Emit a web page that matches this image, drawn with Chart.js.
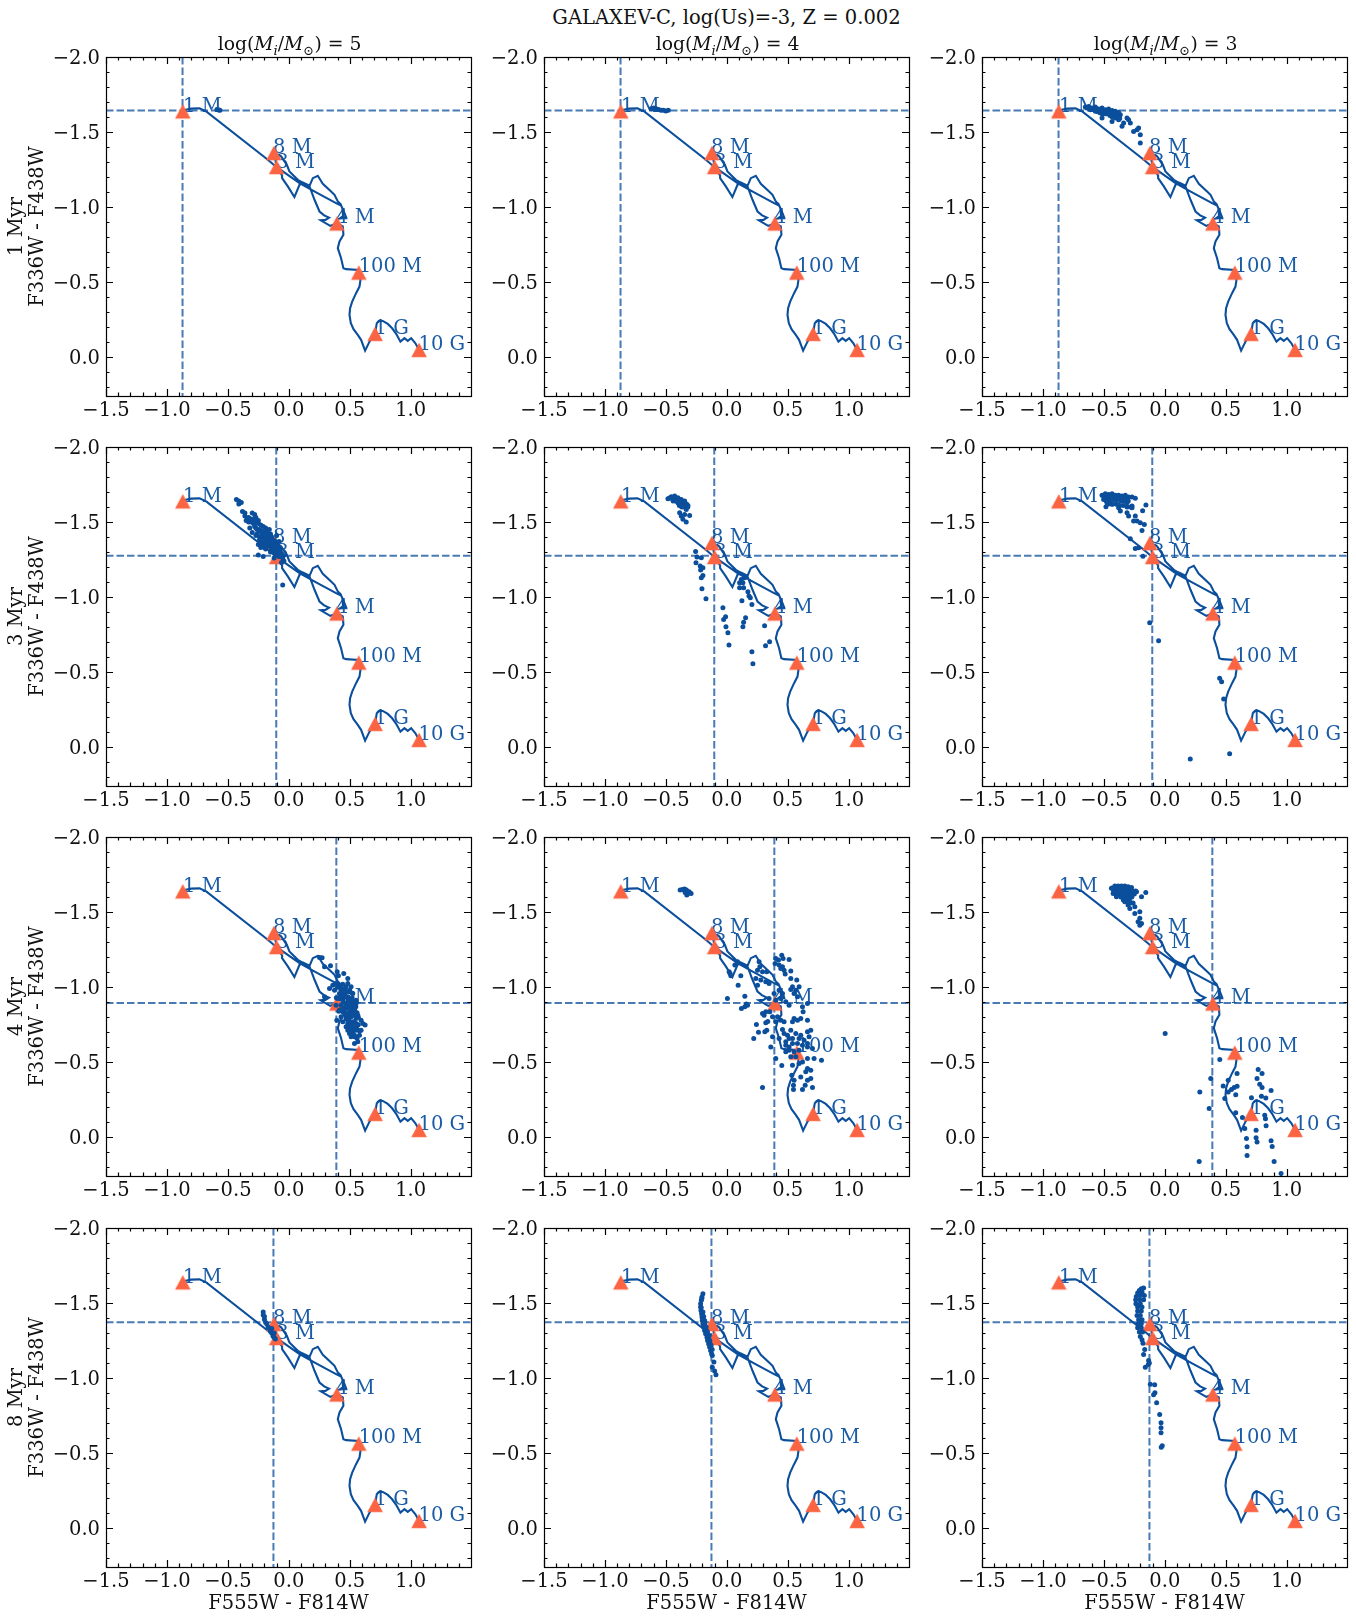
<!DOCTYPE html>
<html><head><meta charset="utf-8">
<script src="https://cdn.jsdelivr.net/npm/chart.js@4"></script>
<style>
html,body{margin:0;padding:0;background:#fff;width:1356px;height:1623px;overflow:hidden;position:relative}
canvas{position:absolute;display:block}
.t{position:absolute;font-family:'DejaVu Serif',serif;color:#111;white-space:nowrap;transform:translateX(-50%);line-height:20px}
.t sub{font-size:70%;line-height:0}
</style></head><body>
<script>
// ---- model track
const trackX=[-0.872,-0.801,-0.733,-0.678,-0.172,-0.098,-0.049,0.088,0.224,0.388,0.429,0.445,0.470,0.420,0.445,0.440,0.425,0.402,0.375,0.347,0.279,0.238,0.197,0.170,0.115,0.088,0.046,-0.008,-0.055,-0.055,-0.098,-0.120,-0.063,-0.016,0.005,0.074,0.142,0.170,0.211,0.252,0.290,0.330,0.300,0.262,0.340,0.394,0.443,0.448,0.416,0.402,0.429,0.448,0.470,0.574,0.588,0.580,0.552,0.520,0.503,0.498,0.509,0.531,0.566,0.593,0.626,0.662,0.708,0.722,0.744,0.771,0.812,0.848,0.881,0.916,0.949,0.976,1.004,1.039,1.066];
const trackY=[-1.644,-1.656,-1.658,-1.638,-1.316,-1.264,-1.238,-1.160,-1.098,-1.027,-1.010,-0.985,-0.933,-0.925,-0.940,-0.990,-1.020,-1.038,-1.082,-1.104,-1.156,-1.209,-1.193,-1.142,-1.164,-1.149,-1.067,-1.138,-1.193,-1.211,-1.264,-1.360,-1.338,-1.282,-1.238,-1.182,-1.149,-1.138,-1.049,-0.971,-0.945,-0.930,-0.915,-0.912,-0.875,-0.893,-0.871,-0.816,-0.771,-0.727,-0.660,-0.593,-0.587,-0.582,-0.516,-0.471,-0.427,-0.371,-0.327,-0.282,-0.227,-0.187,-0.149,-0.116,-0.044,-0.104,-0.160,-0.227,-0.244,-0.242,-0.222,-0.193,-0.156,-0.104,-0.127,-0.109,-0.127,-0.093,-0.053];
// ---- age markers
const ageX=[-0.870,-0.123,-0.100,0.394,0.574,0.708,1.069];
const ageY=[-1.638,-1.360,-1.267,-0.891,-0.564,-0.156,-0.049];
const ageText=['1 M','8 M','3 M','4 M','100 M','1 G','10 G'];
const ageTextX=[-0.868,-0.129,-0.102,0.388,0.573,0.704,1.065];
const ageTextY=[-1.635,-1.360,-1.263,-0.897,-0.571,-0.153,-0.046];
// ---- reference colours per row
const refX=[-0.872,-0.103,0.390,-0.126];
const refY=[-1.644,-1.275,-0.895,-1.372];
const rowNames=['1 Myr','3 Myr','4 Myr','8 Myr'];
const colNames=['5','4','3'];
// ---- clusters
const r1c1x=[-0.59,-0.575,-0.565];
const r1c1y=[-1.65,-1.647,-1.645];
const r1c2x=[-0.62,-0.60,-0.58,-0.56,-0.54,-0.52,-0.50,-0.48];
const r1c2y=[-1.655,-1.66,-1.655,-1.65,-1.645,-1.645,-1.64,-1.645];
const r1c3x=[-0.652,-0.625,-0.597,-0.57,-0.543,-0.515,-0.488,-0.461,-0.433,-0.406,-0.379,-0.365,-0.611,-0.57,-0.529,-0.488,-0.447,-0.433,-0.406,-0.379,-0.351,-0.338,-0.297,-0.283,-0.31,-0.256,-0.228,-0.215,-0.201,-0.201,-0.515,-0.379,-0.64,-0.62,-0.60,-0.58,-0.56,-0.54,-0.52,-0.50,-0.48,-0.46,-0.44,-0.42,-0.40,-0.55,-0.51,-0.47,-0.43,-0.41,-0.39,-0.37];
const r1c3y=[-1.667,-1.671,-1.66,-1.667,-1.653,-1.66,-1.649,-1.653,-1.644,-1.638,-1.631,-1.616,-1.649,-1.638,-1.627,-1.622,-1.609,-1.571,-1.593,-1.582,-1.538,-1.56,-1.582,-1.56,-1.593,-1.504,-1.516,-1.527,-1.482,-1.427,-1.593,-1.622,-1.66,-1.66,-1.655,-1.65,-1.655,-1.645,-1.64,-1.64,-1.635,-1.63,-1.62,-1.62,-1.61,-1.635,-1.62,-1.62,-1.60,-1.60,-1.60,-1.59];
const r2c1x=[-0.43,-0.41,-0.39,-0.41,-0.38,-0.36,-0.36,-0.34,-0.30,-0.28,-0.35,-0.31,-0.27,-0.25,-0.28,-0.32,-0.30,-0.27,-0.24,-0.21,-0.19,-0.16,-0.24,-0.25,-0.21,-0.19,-0.20,-0.16,-0.13,-0.15,-0.10,-0.17,-0.13,-0.09,-0.08,-0.10,-0.15,-0.08,-0.05,-0.04,-0.25,-0.21,-0.05,-0.06,-0.12,-0.23,-0.19,-0.26,-0.22,-0.18,-0.23,-0.20,-0.14,-0.11,-0.07,-0.12,-0.06,-0.33,-0.29,-0.27,-0.23,-0.17,-0.33,-0.31,-0.29,-0.27,-0.25,-0.23,-0.26,-0.24,-0.22,-0.20,-0.18,-0.24,-0.22,-0.20,-0.18,-0.16,-0.14,-0.21,-0.19,-0.17,-0.15,-0.13,-0.11,-0.18,-0.16,-0.14,-0.12,-0.10,-0.08,-0.15,-0.13,-0.11,-0.09,-0.07,-0.11,-0.09,-0.07,-0.05];
const r2c1y=[-1.65,-1.64,-1.63,-1.62,-1.57,-1.56,-1.54,-1.52,-1.56,-1.55,-1.51,-1.50,-1.53,-1.51,-1.47,-1.46,-1.43,-1.41,-1.45,-1.47,-1.46,-1.45,-1.38,-1.35,-1.40,-1.42,-1.36,-1.40,-1.38,-1.42,-1.41,-1.34,-1.35,-1.34,-1.37,-1.31,-1.30,-1.27,-1.26,-1.24,-1.28,-1.27,-1.08,-1.23,-1.26,-1.33,-1.32,-1.42,-1.42,-1.39,-1.36,-1.33,-1.33,-1.35,-1.32,-1.30,-1.29,-1.50,-1.49,-1.46,-1.40,-1.37,-1.53,-1.52,-1.52,-1.50,-1.49,-1.48,-1.45,-1.44,-1.44,-1.43,-1.44,-1.40,-1.40,-1.41,-1.41,-1.41,-1.40,-1.37,-1.38,-1.39,-1.38,-1.37,-1.37,-1.35,-1.35,-1.36,-1.34,-1.35,-1.33,-1.31,-1.32,-1.32,-1.31,-1.30,-1.28,-1.28,-1.27,-1.28];
const r2c2x=[-0.483,-0.456,-0.428,-0.401,-0.374,-0.346,-0.319,-0.442,-0.401,-0.36,-0.387,-0.346,-0.305,-0.36,-0.333,-0.374,-0.333,-0.256,-0.245,-0.209,-0.253,-0.218,-0.196,-0.215,-0.196,-0.209,-0.204,-0.171,-0.032,-0.026,-0.01,-0.007,0.009,0.018,0.206,0.214,0.318,0.351,0.31,0.132,0.138,0.154,0.124,0.206,0.173,0.182,0.193,0.105,0.132,0.105,0.138,0.119,0.146,-0.47,-0.45,-0.43,-0.41,-0.39,-0.37,-0.35,-0.33,-0.44,-0.42,-0.40,-0.38,-0.36,-0.34,-0.32,-0.39,-0.37,-0.35];
const r2c2y=[-1.656,-1.669,-1.673,-1.662,-1.651,-1.64,-1.611,-1.647,-1.629,-1.611,-1.562,-1.551,-1.544,-1.518,-1.5,-1.54,-1.584,-1.304,-1.267,-1.262,-1.229,-1.207,-1.196,-1.18,-1.144,-1.129,-1.056,-0.989,-0.929,-0.851,-0.869,-0.802,-0.762,-0.682,-0.636,-0.556,-0.676,-0.702,-0.809,-0.802,-0.833,-0.862,-0.976,-0.951,-1.036,-1.007,-0.996,-1.096,-1.096,-1.062,-1.062,-1.118,-1.129,-1.66,-1.66,-1.66,-1.65,-1.65,-1.64,-1.63,-1.62,-1.64,-1.64,-1.63,-1.63,-1.62,-1.61,-1.60,-1.61,-1.60,-1.60];
const r2c3x=[-0.515,-0.488,-0.461,-0.433,-0.406,-0.379,-0.351,-0.324,-0.297,-0.269,-0.242,-0.502,-0.474,-0.447,-0.406,-0.474,-0.483,-0.433,-0.392,-0.351,-0.31,-0.269,-0.379,-0.365,-0.31,-0.297,-0.269,-0.242,-0.228,-0.256,-0.201,-0.168,-0.187,-0.155,-0.182,-0.283,-0.242,-0.215,-0.179,-0.124,-0.051,0.45,0.466,0.483,0.532,0.209,-0.50,-0.47,-0.44,-0.41,-0.38,-0.35,-0.32,-0.48,-0.45,-0.42,-0.39,-0.36,-0.33,-0.30,-0.46,-0.43,-0.40,-0.37,-0.34,-0.31,-0.28];
const r2c3y=[-1.678,-1.689,-1.684,-1.689,-1.678,-1.678,-1.673,-1.678,-1.667,-1.667,-1.658,-1.651,-1.662,-1.651,-1.651,-1.629,-1.602,-1.618,-1.618,-1.64,-1.629,-1.596,-1.596,-1.573,-1.562,-1.54,-1.607,-1.54,-1.507,-1.507,-1.496,-1.484,-1.444,-1.613,-1.576,-1.389,-1.324,-1.329,-1.273,-0.829,-0.709,-0.46,-0.436,-0.322,0.044,0.078,-1.67,-1.67,-1.67,-1.67,-1.66,-1.66,-1.66,-1.64,-1.64,-1.65,-1.65,-1.64,-1.64,-1.64,-1.62,-1.62,-1.62,-1.61,-1.61,-1.60,-1.60];
const r3c1x=[0.252,0.273,0.293,0.342,0.397,0.407,0.451,0.484,0.361,0.334,0.388,0.416,0.443,0.484,0.511,0.375,0.416,0.457,0.498,0.525,0.293,0.402,0.443,0.484,0.511,0.552,0.388,0.429,0.47,0.511,0.552,0.416,0.457,0.498,0.539,0.394,0.429,0.47,0.511,0.552,0.593,0.607,0.626,0.443,0.484,0.525,0.566,0.484,0.511,0.552,0.593,0.498,0.539,0.58,0.539,0.566,0.47,0.511,0.443,0.484,0.457,0.429,0.47,0.498,0.525,0.484,0.566,0.525,.40,.42,.44,.46,.48,.50,.52,.44,.46,.48,.50,.52,.54,.45,.47,.49,.51,.53,.55,.46,.48,.50,.52,.54,.56,.47,.49,.51,.53,.55,.57,.49,.51,.53,.55,.57,.50,.52,.54,.56,.58,.43,.45,.47,.42,.44,.52,.54,.56,.41,.39];
const r3c1y=[-1.198,-1.196,-1.136,-1.142,-1.102,-1.076,-1.091,-1.058,-1.013,-0.991,-1.024,-1.002,-1.02,-1.024,-1.002,-0.98,-0.958,-0.98,-0.969,-0.958,-0.936,-0.924,-0.924,-0.936,-0.913,-0.913,-0.88,-0.88,-0.88,-0.869,-0.891,-0.847,-0.836,-0.836,-0.836,-0.78,-0.802,-0.802,-0.802,-0.791,-0.78,-0.758,-0.747,-0.769,-0.758,-0.758,-0.747,-0.713,-0.724,-0.713,-0.713,-0.691,-0.68,-0.68,-0.624,-0.636,-0.736,-0.669,-0.836,-0.902,-0.947,-0.98,-1.002,-0.869,-0.813,-0.78,-0.813,-0.702,-1.0,-1.0,-.99,-.98,-.97,-.98,-.96,-.95,-.94,-.93,-.92,-.93,-.90,-.90,-.89,-.90,-.90,-.88,-.87,-.86,-.86,-.87,-.85,-.85,-.83,-.82,-.81,-.82,-.82,-.81,-.80,-.78,-.77,-.77,-.76,-.75,-.74,-.74,-.73,-.72,-.71,-.92,-.86,-.79,-.95,-.97,-.70,-.67,-.66,-.84,-.93];
const r3c2x=[-0.383,-0.364,-0.347,-0.331,-0.309,-0.293,-0.328,-0.342,-0.32,0.005,0.019,0.033,0.027,0.066,0.088,0.115,0.093,0.148,0.12,0.148,0.17,0.161,0.243,0.26,0.221,0.293,0.312,0.328,0.32,0.336,0.293,0.306,0.32,0.353,0.265,0.271,0.252,0.293,0.328,0.238,0.252,0.279,0.32,0.347,0.402,0.424,0.451,0.462,0.511,0.396,0.429,0.457,0.47,0.443,0.479,0.525,0.525,0.574,0.539,0.525,0.566,0.593,0.552,0.58,0.347,0.388,0.429,0.457,0.402,0.443,0.484,0.511,0.621,0.626,0.662,0.662,0.607,0.552,0.58,0.539,0.375,0.416,0.443,0.47,0.402,0.457,0.47,0.525,0.498,0.566,0.607,0.662,0.689,0.593,0.634,0.675,0.662,0.621,0.511,0.484,0.539,0.375,0.429,0.361,0.484,0.511,0.552,0.593,0.662,0.703,0.525,0.566,0.621,0.662,0.716,0.777,0.402,0.451,0.539,0.533,0.552,0.547,0.547,0.621,0.643,0.662,0.689,0.648,0.689,0.662,0.703,0.607,0.593,0.484,0.539,0.58,0.511];
const r3c2y=[-1.647,-1.651,-1.653,-1.647,-1.636,-1.624,-1.613,-1.631,-1.624,-0.924,-1.102,-1.076,-1.091,-1.147,-1.169,-1.076,-1.013,-0.94,-0.858,-0.869,-0.88,-0.887,-0.751,-0.7,-0.658,-0.331,-0.702,-0.713,-0.762,-0.771,-0.824,-0.813,-0.836,-0.836,-1.169,-1.136,-1.113,-1.102,-1.102,-1.058,-1.013,-1.047,-1.036,-1.024,-1.191,-1.18,-1.213,-1.191,-1.184,-1.158,-1.147,-1.136,-1.113,-1.124,-1.087,-1.107,-1.058,-1.047,-1.002,-0.984,-0.98,-1.002,-0.958,-0.936,-0.924,-0.958,-0.98,-0.958,-0.913,-0.924,-0.902,-0.88,-0.869,-0.836,-0.891,-0.78,-0.791,-0.791,-0.78,-0.769,-0.802,-0.802,-0.78,-0.769,-0.769,-0.718,-0.691,-0.713,-0.68,-0.691,-0.68,-0.702,-0.713,-0.658,-0.647,-0.669,-0.624,-0.613,-0.658,-0.636,-0.624,-0.669,-0.658,-0.602,-0.613,-0.58,-0.569,-0.58,-0.602,-0.591,-0.536,-0.536,-0.502,-0.524,-0.524,-0.513,-0.524,-0.478,-0.48,-0.413,-0.38,-0.347,-0.318,-0.318,-0.347,-0.38,-0.391,-0.436,-0.447,-0.458,-0.331,-0.402,-0.491,-0.569,-0.658,-0.624,-0.602];
const r3c3x=[-0.438,-0.41,-0.383,-0.355,-0.328,-0.301,-0.273,-0.424,-0.397,-0.369,-0.342,-0.314,-0.273,-0.232,-0.328,-0.301,-0.287,-0.246,-0.205,-0.246,-0.205,-0.219,-0.191,-0.205,-0.156,-0.191,-0.369,-0.397,-0.328,0.003,0.451,0.377,0.287,0.364,0.282,0.479,0.52,0.593,0.766,0.798,0.757,0.779,0.798,0.872,0.593,0.569,0.547,0.52,0.492,0.582,0.711,0.793,0.829,0.582,0.637,0.656,0.82,0.826,0.831,0.749,0.749,0.757,0.67,0.675,0.675,0.872,0.881,0.897,0.954,-.43,-.40,-.37,-.34,-.31,-.28,-.42,-.39,-.36,-.33,-.30,-.27,-.24,-.40,-.37,-.34,-.31,-.28,-.25,-.36,-.33,-.30,-.27,-.34,-.31,-.29,-.30,-.28,-.26];
const r3c3y=[-1.658,-1.673,-1.673,-1.673,-1.673,-1.669,-1.664,-1.624,-1.602,-1.613,-1.636,-1.624,-1.636,-1.636,-1.569,-1.547,-1.524,-1.536,-1.502,-1.491,-1.458,-1.436,-1.424,-1.413,-1.631,-1.602,-1.647,-1.647,-1.602,-0.691,-0.518,-0.391,-0.302,-0.191,0.162,-0.342,-0.38,-0.424,-0.451,-0.424,-0.391,-0.353,-0.331,-0.311,-0.34,-0.331,-0.318,-0.302,-0.258,-0.284,-0.264,-0.273,-0.262,-0.164,-0.131,-0.058,-0.147,-0.124,-0.076,-0.047,0.004,0.031,0.009,0.064,0.122,0.024,0.062,0.162,0.242,-1.66,-1.66,-1.66,-1.66,-1.66,-1.65,-1.64,-1.64,-1.64,-1.64,-1.64,-1.64,-1.64,-1.62,-1.62,-1.62,-1.62,-1.62,-1.62,-1.60,-1.60,-1.60,-1.60,-1.58,-1.58,-1.58,-1.56,-1.56,-1.56];
const r4c1x=[-0.21,-0.21,-0.20,-0.20,-0.19,-0.18,-0.17,-0.16,-0.15,-0.14,-0.13,-0.12,-0.11,-0.14,-0.12];
const r4c1y=[-1.44,-1.42,-1.41,-1.39,-1.37,-1.36,-1.34,-1.33,-1.31,-1.30,-1.28,-1.27,-1.26,-1.33,-1.30];
const r4c2x=[-0.196,-0.204,-0.209,-0.215,-0.215,-0.212,-0.207,-0.204,-0.201,-0.196,-0.19,-0.182,-0.174,-0.163,-0.158,-0.149,-0.141,-0.133,-0.125,-0.119,-0.106,-0.119,-0.1,-0.089,-0.196,-0.182,-0.174,-0.155,-.205,-.21,-.20,-.195,-.19,-.18,-.17,-.16,-.15,-.14,-.13,-.19,-.18,-.17,-.16,-.15,-.14,-.13,-.12];
const r4c2y=[-1.562,-1.54,-1.518,-1.496,-1.473,-1.451,-1.429,-1.407,-1.384,-1.362,-1.34,-1.318,-1.296,-1.273,-1.251,-1.229,-1.207,-1.184,-1.162,-1.151,-1.107,-1.073,-1.047,-1.022,-1.44,-1.384,-1.329,-1.284,-1.53,-1.47,-1.42,-1.40,-1.37,-1.35,-1.32,-1.30,-1.27,-1.24,-1.21,-1.41,-1.37,-1.34,-1.31,-1.28,-1.25,-1.22,-1.19];
const r4c3x=[-0.174,-0.193,-0.209,-0.223,-0.187,-0.234,-0.201,-0.168,-0.239,-0.206,-0.174,-0.237,-0.201,-0.223,-0.187,-0.223,-0.193,-0.228,-0.201,-0.215,-0.187,-0.22,-0.193,-0.223,-0.193,-0.209,-0.182,-0.201,-0.187,-0.179,-0.165,-0.174,-0.133,-0.127,-0.135,-0.16,-0.119,-0.083,-0.081,-0.092,-0.067,-0.042,-0.031,-0.031,-0.031,-0.029,-0.021];
const r4c3y=[-1.6,-1.596,-1.584,-1.567,-1.573,-1.544,-1.551,-1.551,-1.522,-1.522,-1.522,-1.496,-1.496,-1.473,-1.473,-1.447,-1.447,-1.418,-1.418,-1.389,-1.389,-1.362,-1.362,-1.336,-1.336,-1.307,-1.307,-1.278,-1.256,-1.233,-1.191,-1.158,-1.118,-1.1,-1.091,-1.073,-0.96,-0.956,-0.902,-0.889,-0.836,-0.758,-0.702,-0.669,-0.636,-0.54,-0.549];

const dotTable=[[[r1c1x,r1c1y],[r1c2x,r1c2y],[r1c3x,r1c3y]],[[r2c1x,r2c1y],[r2c2x,r2c2y],[r2c3x,r2c3y]],[[r3c1x,r3c1y],[r3c2x,r3c2y],[r3c3x,r3c3y]],[[r4c1x,r4c1y],[r4c2x,r4c2y],[r4c3x,r4c3y]]];
const pairs=(xs,ys)=>xs.map((x,i)=>({x,y:ys[i]}));

// ---- styles and layout
const SERIF="'DejaVu Serif'";
const BLUE='#0b4f9c', DASH='rgba(11,79,156,0.75)', TOMATO='#fb6443';
const FS=19.5;
const colLeft=[106,544,982], rowTop=[57,447,837,1228];
const PW=365, PH=339, LEFTM=106, TOPM=10, BOTM=50, RIGHTM=9;
const XMIN=-1.5, XMAX=1.495, YMIN=-2, YMAX=0.258;
const isMajor=v=>Math.abs(v*2-Math.round(v*2))<1e-6;
const fmt=v=>isMajor(v)?(v<-1e-9?'\u2212':'')+Math.abs(v).toFixed(1):'';

// triangle centred on its mid-height, like the source marker
const tri=document.createElement('canvas');tri.width=18;tri.height=18;
{const c=tri.getContext('2d');c.fillStyle=TOMATO;c.beginPath();c.moveTo(9,1.7);c.lineTo(16.8,16.3);c.lineTo(1.2,16.3);c.closePath();c.fill();}

const noPad=s=>{s.paddingTop=0;s.paddingBottom=0;s.paddingLeft=0;s.paddingRight=0;};
const framePlugin={id:'frame',
 beforeDatasetsDraw(chart){
  const {ctx,scales:{x,y}}=chart;
  ctx.save();ctx.fillStyle='#1a5ba6';ctx.font=FS+"px "+SERIF;ctx.textAlign='left';ctx.textBaseline='alphabetic';
  ageText.forEach((t,i)=>ctx.fillText(t,x.getPixelForValue(ageTextX[i]),y.getPixelForValue(ageTextY[i])));
  ctx.restore();
 },
 afterDatasetsDraw(chart){
  const {ctx,chartArea:a,scales:{x,y}}=chart;
  ctx.save();ctx.strokeStyle='#000';ctx.lineWidth=1.2;
  ctx.beginPath();
  x.ticks.forEach(t=>{const p=Math.round(x.getPixelForValue(t.value))+.5,l=isMajor(t.value)?7:3.5;
    ctx.moveTo(p,a.bottom);ctx.lineTo(p,a.bottom-l);ctx.moveTo(p,a.top);ctx.lineTo(p,a.top+l);});
  y.ticks.forEach(t=>{const p=Math.round(y.getPixelForValue(t.value))+.5,l=isMajor(t.value)?7:3.5;
    ctx.moveTo(a.left,p);ctx.lineTo(a.left+l,p);ctx.moveTo(a.right,p);ctx.lineTo(a.right-l,p);});
  ctx.stroke();
  ctx.strokeRect(a.left+.5,a.top+.5,a.right-a.left,a.bottom-a.top);
  ctx.restore();
 }};

rowTop.forEach((top,r)=>colLeft.forEach((left,c)=>{
 const cv=document.createElement('canvas');
 const W=LEFTM+PW+RIGHTM,H=TOPM+PH+BOTM;
 cv.width=W;cv.height=H;cv.style.left=(left-LEFTM)+'px';cv.style.top=(top-TOPM)+'px';
 cv.style.width=W+'px';cv.style.height=H+'px';
 document.body.appendChild(cv);
 const [dx,dy]=dotTable[r][c];
 new Chart(cv,{type:'scatter',
  data:{datasets:[
   {label:'clusters',data:pairs(dx,dy),pointRadius:2.5,pointHoverRadius:2.5,backgroundColor:BLUE,borderColor:BLUE,borderWidth:0},
   {label:'ages',data:pairs(ageX,ageY),pointStyle:tri,pointRadius:8,backgroundColor:TOMATO,borderWidth:0},
   {label:'track',data:pairs(trackX,trackY),showLine:true,borderColor:BLUE,borderWidth:2.1,pointRadius:0,tension:0},
   {label:'x ref',data:[{x:refX[r],y:YMIN},{x:refX[r],y:YMAX}],showLine:true,borderColor:DASH,borderWidth:2,borderDash:[7.5,3],pointRadius:0},
   {label:'y ref',data:[{x:XMIN,y:refY[r]},{x:XMAX,y:refY[r]}],showLine:true,borderColor:DASH,borderWidth:2,borderDash:[7.5,3],pointRadius:0}
  ]},
  options:{responsive:false,animation:false,devicePixelRatio:1,
   layout:{padding:{top:TOPM,right:RIGHTM,left:0,bottom:0}},
   plugins:{legend:{display:false},tooltip:{enabled:false}},
   events:[],
   scales:{
    x:{type:'linear',min:XMIN,max:XMAX,
     grid:{display:false,drawTicks:false},border:{display:false},
     ticks:{stepSize:0.1,includeBounds:false,autoSkip:false,maxRotation:0,minRotation:0,padding:3,color:'#111',font:{family:SERIF,size:FS},callback:fmt},
     title:{display:r===3,text:'F555W - F814W',color:'#111',font:{family:SERIF,size:FS,lineHeight:1.2},padding:{top:0,bottom:1}},
     afterFit:s=>{s.height=BOTM;noPad(s);}},
    y:{type:'linear',reverse:true,min:YMIN,max:YMAX,
     grid:{display:false,drawTicks:false},border:{display:false},
     ticks:{stepSize:0.1,includeBounds:false,autoSkip:false,padding:6,labelOffset:1.8,color:'#111',font:{family:SERIF,size:FS},callback:fmt},
     title:{display:c===0,text:[rowNames[r],'F336W - F438W'],color:'#111',font:{family:SERIF,size:FS,lineHeight:1.05},padding:{top:7,bottom:0}},
     afterFit:s=>{s.width=LEFTM;noPad(s);}}
   }},
  plugins:[framePlugin]});
}));

// figure and column headings
function head(html,cx,y,size){const d=document.createElement('div');d.className='t';d.innerHTML=html;d.style.left=cx+'px';d.style.top=y+'px';d.style.fontSize=size+'px';document.body.appendChild(d);}
head('GALAXEV-C, log(Us)=-3, Z = 0.002',726.5,7.6,FS);
colLeft.forEach((l,c)=>head('log(<i>M<sub>i</sub></i>/<i>M</i><sub>\u2299</sub>) = '+colNames[c],l+PW/2+1,33.7,18.8));
</script>
</body></html>
